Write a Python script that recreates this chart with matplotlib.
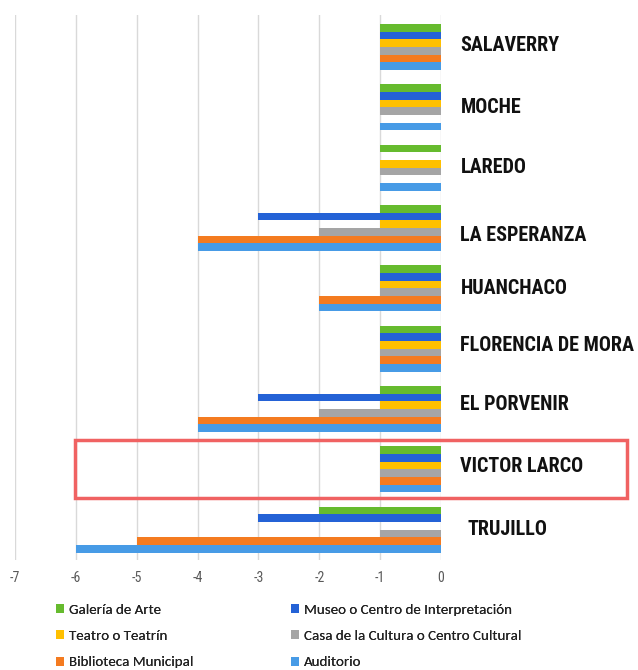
import numpy as np
import matplotlib
matplotlib.use("Agg")
import matplotlib.pyplot as plt
from matplotlib.patches import Rectangle

# Districts, bottom to top as drawn
districts = ["TRUJILLO", "VICTOR LARCO", "EL PORVENIR", "FLORENCIA DE MORA",
             "HUANCHACO", "LA ESPERANZA", "LAREDO", "MOCHE", "SALAVERRY"]

galeria    = [-2, -1, -1, -1, -1, -1, -1, -1, -1]
museo      = [-3, -1, -3, -1, -1, -3,  0, -1, -1]
teatro     = [ 0, -1, -1, -1, -1, -1, -1, -1, -1]
casa       = [-1, -1, -2, -1, -1, -2, -1, -1, -1]
biblioteca = [-5, -1, -4, -1, -2, -4,  0,  0, -1]
auditorio  = [-6, -1, -4, -1, -2, -4, -1, -1, -1]

series_names = ["Galería de Arte", "Museo o Centro de Interpretación",
                "Teatro o Teatrín", "Casa de la Cultura o Centro Cultural",
                "Biblioteca Municipal", "Auditorio"]
series_vals = [galeria, museo, teatro, casa, biblioteca, auditorio]
colors = ["#66bb2e", "#2462d6", "#ffc000", "#a5a5a5", "#f47b20", "#479be6"]

x_ticks = [-7, -6, -5, -4, -3, -2, -1, 0]

cond = ["Roboto Condensed", "DejaVu Sans"]
legfont = ["Carlito", "DejaVu Sans"]

# small vertical nudges of the district labels (in category units)
label_nudge = {"LA ESPERANZA": -0.13, "FLORENCIA DE MORA": 0.05,
               "EL PORVENIR": 0.07, "VICTOR LARCO": 0.05, "SALAVERRY": 0.03}

fig = plt.figure(figsize=(6.38, 6.70), dpi=100)
ax = fig.add_axes([15/638, 1 - 560/670, (441 - 15)/638, (560 - 15)/670])

y = np.arange(len(districts))
h = 0.127
handles = []
for i, (name, vals, c) in enumerate(zip(series_names, series_vals, colors)):
    b = ax.barh(y + (2.5 - i) * h, vals, height=h, color=c, label=name,
                edgecolor="none", zorder=3)
    handles.append(b)

ax.set_xlim(-7, 0)
ax.set_ylim(-0.5, 8.53)
ax.set_xticks(x_ticks)
ax.set_xticklabels([str(t) for t in x_ticks], fontsize=10, color="#595959",
                   family=cond)
ax.tick_params(axis="x", length=0, pad=8)
ax.set_yticks([])
ax.grid(axis="x", color="#d9d9d9", linewidth=1, zorder=0)
for s in ax.spines.values():
    s.set_visible(False)

# category labels to the right of the zero line
for yi, name in zip(y, districts):
    dx = 0.44 if name == "TRUJILLO" else 0.32
    ax.text(dx, yi + label_nudge.get(name, 0.0), name, fontsize=14.5,
            fontweight="bold", color="#111111", ha="left", va="center",
            clip_on=False, family=cond)

# highlight box around VICTOR LARCO
fig.patches.append(Rectangle((75/638, 1 - 498/670), (627 - 75)/638, (498 - 440)/670,
                             transform=fig.transFigure, fill=False,
                             edgecolor="#f06262", linewidth=2.5))

# legend: two columns, three rows (row-wise order)
for cols, x0 in (([0, 2, 4], 56), ([1, 3, 5], 291)):
    leg = fig.legend([handles[k] for k in cols], [series_names[k] for k in cols],
                     loc="upper left", bbox_to_anchor=(x0/638, 1 - 604/670),
                     frameon=False, borderpad=0, borderaxespad=0,
                     handlelength=0.55, handleheight=0.55, handletextpad=0.3,
                     labelspacing=0.95,
                     prop={"family": legfont, "size": 10.8})
    for t in leg.get_texts():
        t.set_color("#222222")
    fig.add_artist(leg)

fig.savefig("out.png", dpi=100)
